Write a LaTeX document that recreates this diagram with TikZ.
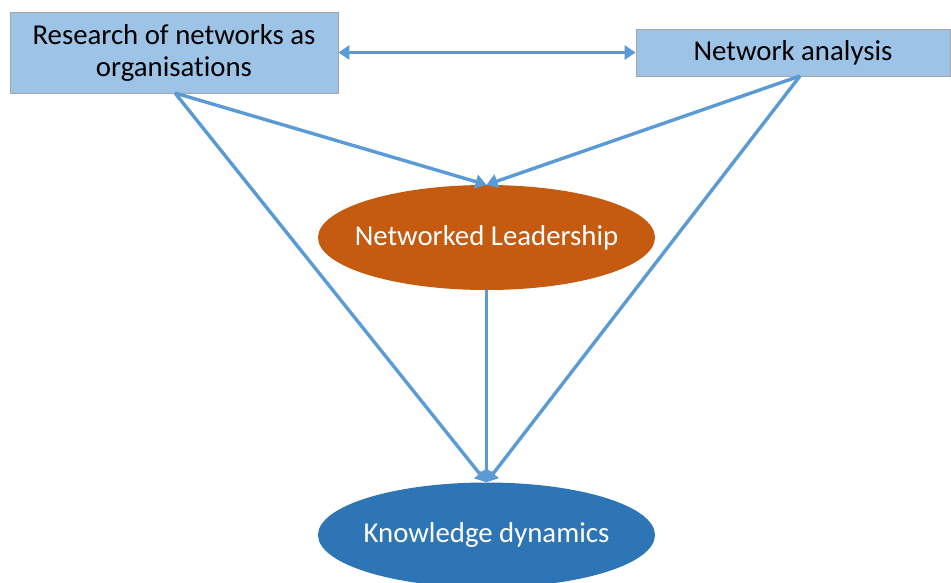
\documentclass[tikz,border=0pt]{standalone}
\usepackage{fontspec}
\setmainfont[Ligatures=NoCommon]{Carlito}
\usetikzlibrary{arrows.meta,shapes.geometric}
\definecolor{boxfill}{HTML}{9DC3E6}
\definecolor{boxline}{HTML}{A5A5A5}
\definecolor{arrowc}{HTML}{5B9BD5}
\definecolor{orangec}{HTML}{C55A11}
\definecolor{bluec}{HTML}{2E75B6}
\tikzset{
  topbox/.style={draw=boxline, line width=0.8pt, fill=boxfill, inner sep=0pt, align=center, font=\fontsize{28.8}{33}\selectfont},
  ell/.style={ellipse, inner sep=0pt, text=white, minimum width=337pt, minimum height=105pt, font=\fontsize{28.8}{33}\selectfont},
  conn/.style={draw=arrowc, line width=3.4pt, -{Triangle[width=14pt,length=11pt]}},
  conn2/.style={draw=arrowc, line width=3.4pt, {Triangle[width=14pt,length=11pt]}-{Triangle[width=14pt,length=11pt]}}
}
\begin{document}
\begin{tikzpicture}[x=1pt,y=-1pt]
\useasboundingbox (0,0) rectangle (951,583);
\node[topbox, minimum width=328pt, minimum height=81pt] (res) at (174,52.5) {Research of networks as\\[-1pt]organisations};
\node[topbox, minimum width=314pt, minimum height=47pt] (na) at (793,52.5) {Network analysis};
\node[ell, fill=orangec] (nl) at (486.5,237.5) {\makebox[0pt][c]{Networked Leadership}};
\node[ell, fill=bluec] (kd) at (486.5,535) {\makebox[0pt][c]{Knowledge dynamics}};
\coordinate (resb) at (175,93);
\coordinate (nab) at (800,76);
\draw[conn2] (res.east) -- (na.west);
\draw[conn] (resb) -- (nl.north);
\draw[conn] (nab) -- (nl.north);
\draw[conn] (resb) -- (kd.north);
\draw[conn] (nab) -- (kd.north);
\draw[conn] (nl.south) -- (kd.north);
\end{tikzpicture}
\end{document}
